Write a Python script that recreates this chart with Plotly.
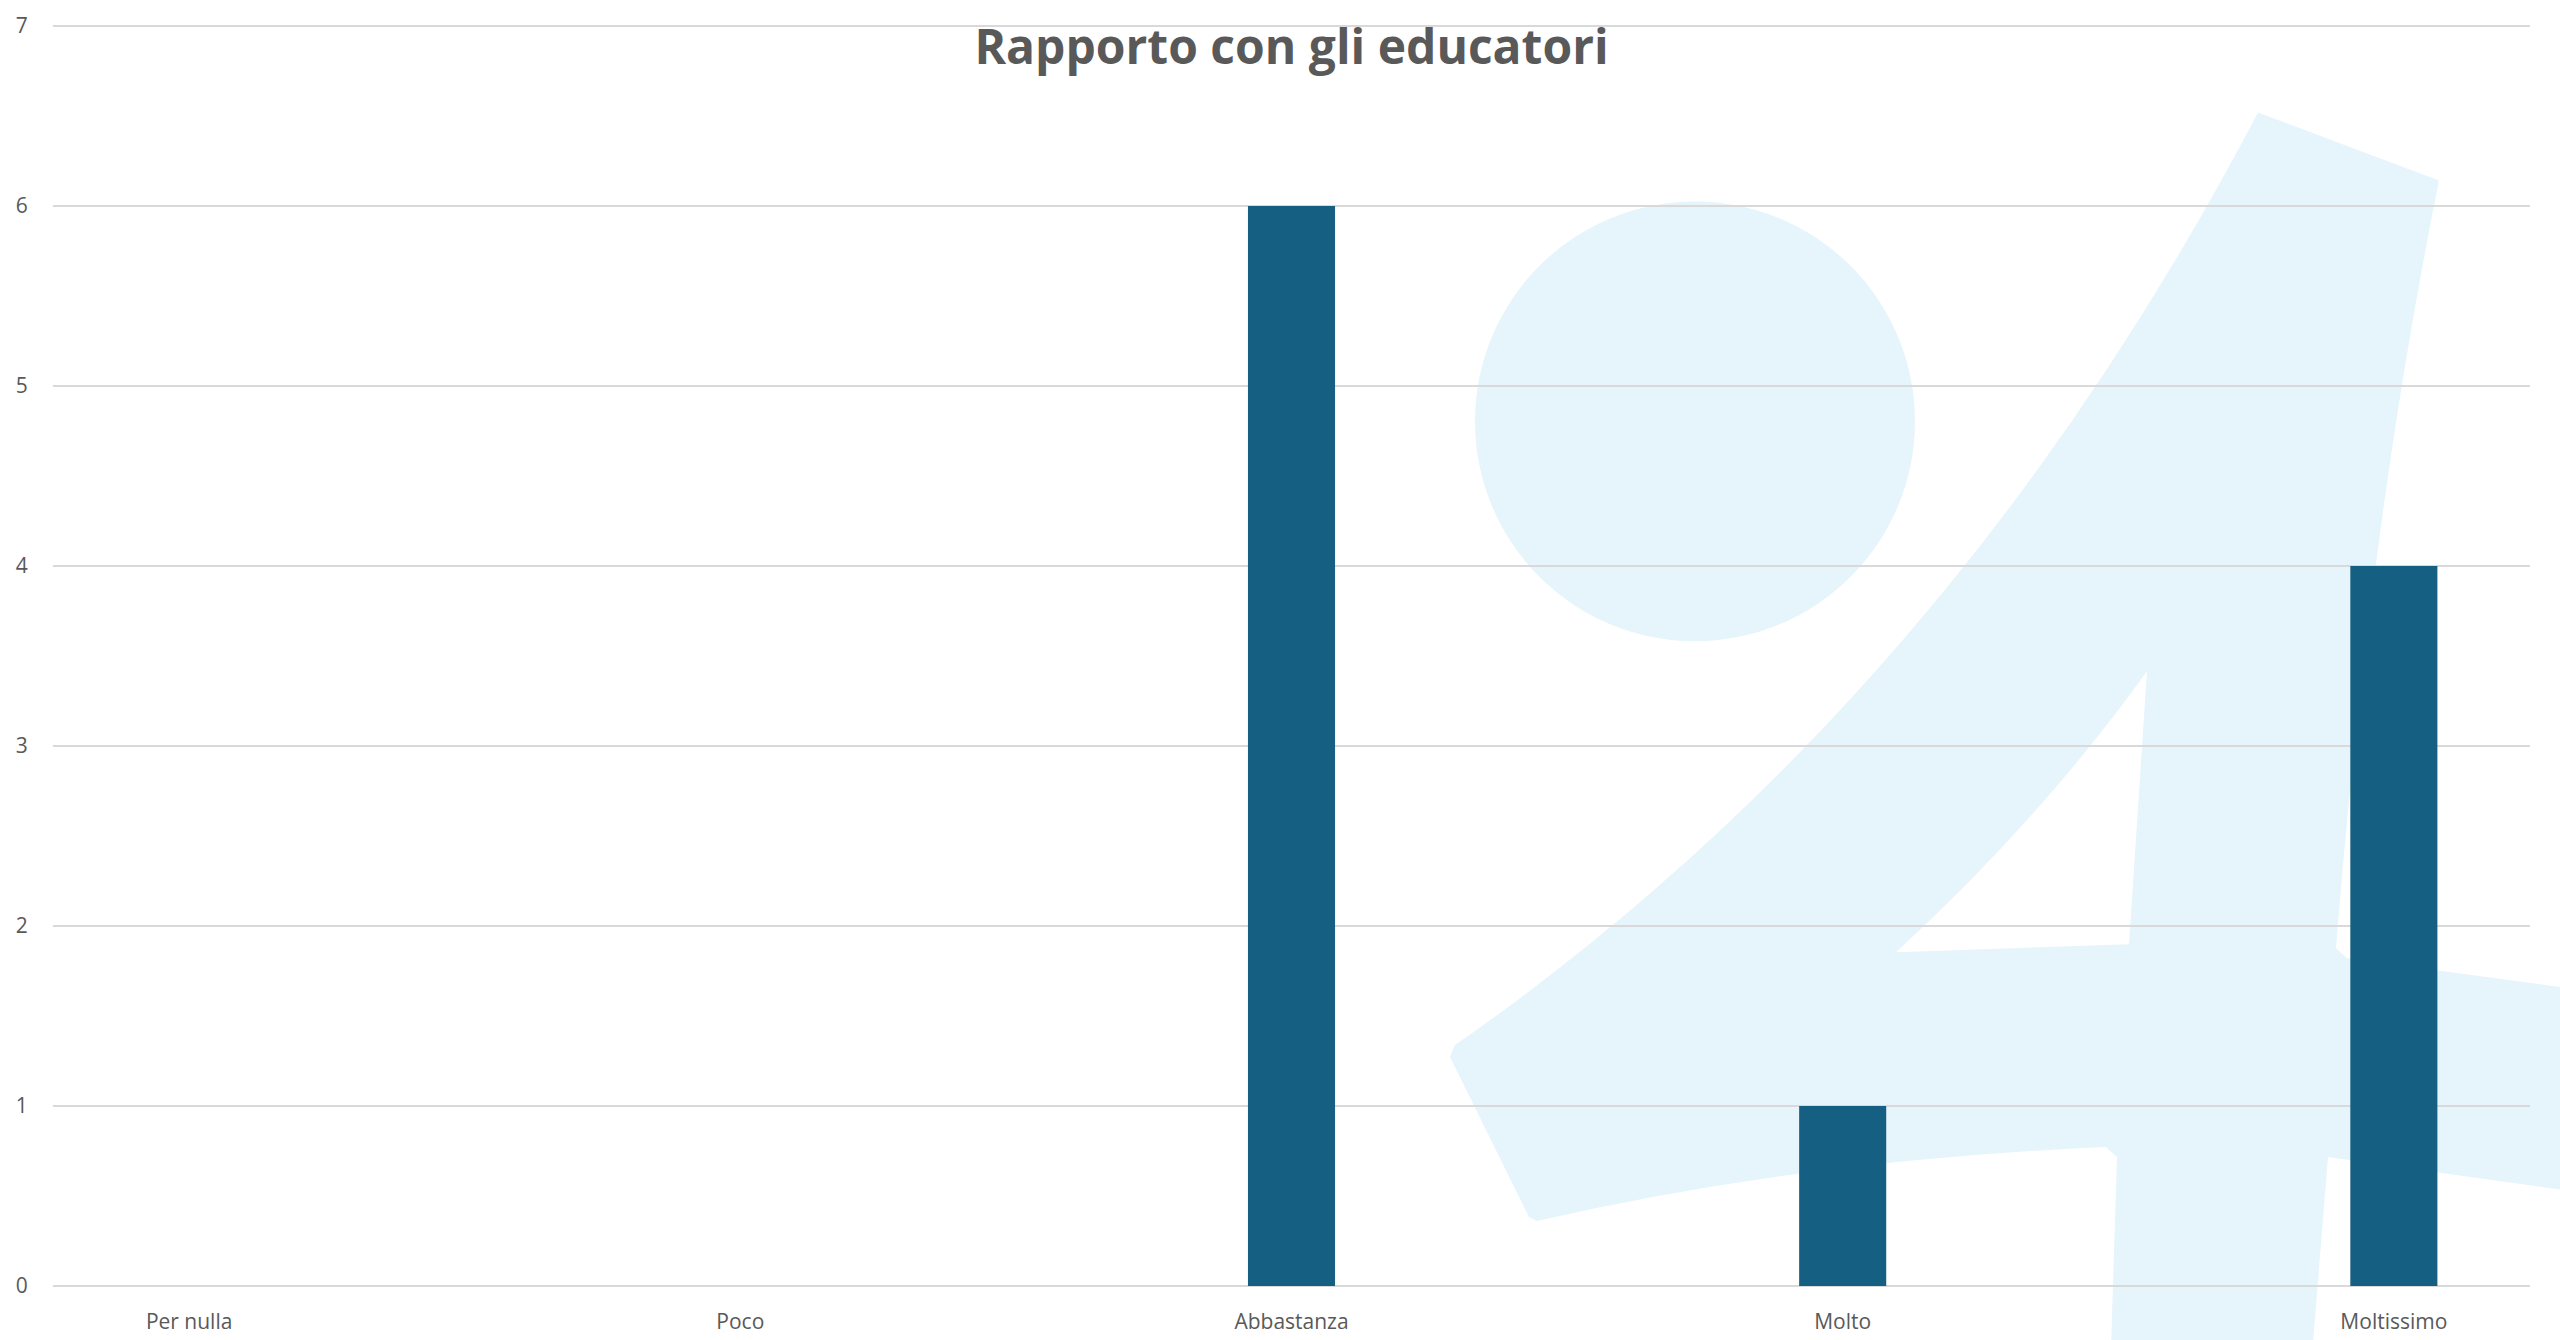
import plotly.graph_objects as go

categories = ["Per nulla", "Poco", "Abbastanza", "Molto", "Moltissimo"]
values = [0, 0, 6, 1, 4]
y_ticks = [0, 1, 2, 3, 4, 5, 6, 7]

FIG_W, FIG_H = 2560, 1340
Y_TOP = 7.0222
L, R, T, B = 53, 2530, 21.5, 1286
PW, PH = R - L, B - T


def px(x, y):
    return (x - L) / PW, (B - y) / PH


def P(x, y):
    a, b = px(x, y)
    return f"{a:.5f},{b:.5f}"


# decorative watermark "4" (pixel coordinates of the reference canvas)
four = (
    "M" + P(2258, 112)
    + " L" + P(2439, 180)
    + " Q" + P(2370, 520) + " " + P(2336, 948)
    + " L" + P(2347, 958)
    + " L" + P(2620, 995)
    + " L" + P(2620, 1198)
    + " L" + P(2328, 1157)
    + " L" + P(2310, 1380)
    + " L" + P(2110, 1380)
    + " L" + P(2117, 1157)
    + " L" + P(2106, 1147)
    + " Q" + P(1800, 1160) + " " + P(1537, 1221)
    + " L" + P(1529, 1217)
    + " L" + P(1450, 1057)
    + " L" + P(1455, 1045)
    + " Q" + P(1950, 700) + " " + P(2258, 112)
    + " Z"
    + " M" + P(2147, 671)
    + " L" + P(2129, 944)
    + " L" + P(1896, 952)
    + " Q" + P(2040, 820) + " " + P(2147, 671)
    + " Z"
)

cx0, cy0 = px(1475, 201)
cx1, cy1 = px(1915, 641)

wm_color = "rgb(230,245,251)"
label_font = "Open Sans, Arial, sans-serif"

fig = go.Figure()
fig.add_trace(go.Bar(
    x=list(range(len(categories))),
    y=values,
    width=0.158,
    marker=dict(color="#156082", line=dict(width=0)),
    hoverinfo="skip",
))

fig.update_layout(
    width=FIG_W,
    height=FIG_H,
    margin=dict(l=L, r=FIG_W - R, t=T, b=FIG_H - B, pad=0, autoexpand=False),
    paper_bgcolor="white",
    plot_bgcolor="rgba(0,0,0,0)",
    showlegend=False,
    font=dict(family=label_font, color="#595959"),
    title=dict(
        text="<b>Rapporto con gli educatori</b>",
        x=0.5, xref="paper", xanchor="center",
        y=1 - 47 / FIG_H, yref="container", yanchor="middle",
        font=dict(size=48, color="#595959", family=label_font),
    ),
    xaxis=dict(
        range=[-0.247, 4.247],
        tickmode="array",
        tickvals=list(range(len(categories))),
        ticktext=categories,
        showgrid=False,
        zeroline=False,
        showline=False,
        automargin=False,
        ticks="outside", ticklen=17, tickcolor="rgba(0,0,0,0)",
        tickfont=dict(size=21, color="#595959", family=label_font),
    ),
    yaxis=dict(
        range=[0, Y_TOP],
        tickvals=y_ticks,
        showgrid=True, gridcolor="#d9d9d9", gridwidth=2,
        zeroline=True, zerolinecolor="#d9d9d9", zerolinewidth=2,
        showline=False,
        automargin=False,
        ticks="outside", ticklen=20, tickcolor="rgba(0,0,0,0)",
        tickfont=dict(size=21, color="#595959", family=label_font),
    ),
    shapes=[
        dict(type="circle", xref="paper", yref="paper",
             x0=cx0, x1=cx1, y0=cy1, y1=cy0,
             fillcolor=wm_color, line=dict(width=0), layer="below"),
        dict(type="path", xref="paper", yref="paper", path=four,
             fillcolor=wm_color, line=dict(width=0), layer="below",
             fillrule="evenodd"),
    ],
)

fig.write_html(
    "out.html",
    config={"displayModeBar": False},
    post_script="document.body.style.margin='0';document.body.style.overflow='hidden';",
)
